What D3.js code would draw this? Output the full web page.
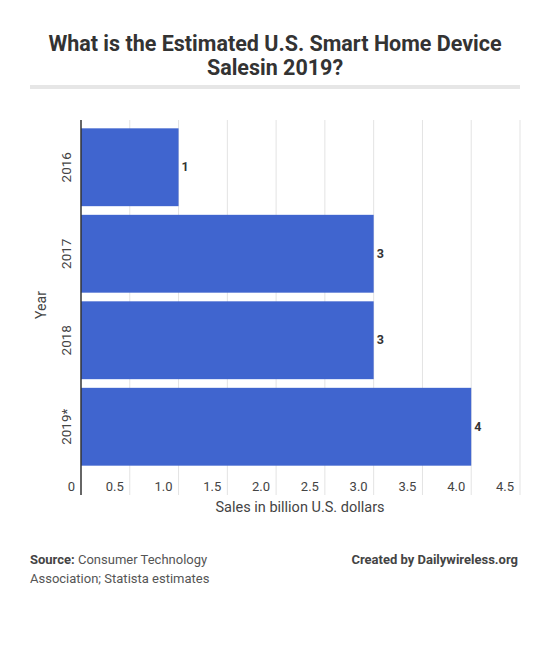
<!DOCTYPE html>
<html>
<head>
<meta charset="utf-8">
<script src="https://cdn.jsdelivr.net/npm/d3@7"></script>
<style>
  html, body { margin: 0; padding: 0; background: #fff; }
  svg { display: block; font-family: Roboto, "Noto Sans", sans-serif; }
</style>
</head>
<body>
<svg id="chart" width="550" height="668"></svg>
<script>
const categories = ["2016", "2017", "2018", "2019*"];
const values = [1, 3, 3, 4];
const valueLabels = ["1", "3", "3", "4"];
const xTicks = [0, 0.5, 1.0, 1.5, 2.0, 2.5, 3.0, 3.5, 4.0, 4.5];
const xTickLabels = ["0", "0.5", "1.0", "1.5", "2.0", "2.5", "3.0", "3.5", "4.0", "4.5"];

const svg = d3.select("#chart");
const W = 550;

// Title
const title = svg.append("text")
  .attr("x", W / 2).attr("y", 51)
  .attr("text-anchor", "middle")
  .style("font-size", "21.5px").style("font-weight", "700")
  .style("fill", "#333");
title.append("tspan").attr("x", W / 2).attr("dy", 0).text("What is the Estimated U.S. Smart Home Device");
title.append("tspan").attr("x", W / 2).attr("dy", 24).text("Salesin 2019?");

svg.append("rect").attr("x", 30).attr("y", 85).attr("width", 490).attr("height", 4).attr("fill", "#e6e6e6");

// Plot
const x0 = 81, x1 = 520;
const x = d3.scaleLinear().domain([0, 4.5]).range([x0, x1]);
const y = d3.scaleBand().domain(categories).range([124, 470]).paddingInner(0.1).paddingOuter(0.05);

const gridTop = 120, gridBottom = 495;

svg.append("g").selectAll("line").data(xTicks.slice(1)).join("line")
  .attr("x1", d => x(d)).attr("x2", d => x(d))
  .attr("y1", gridTop).attr("y2", gridBottom)
  .attr("stroke", "#e3e3e3").attr("stroke-width", 1);

svg.append("g").selectAll("rect").data(values).join("rect")
  .attr("x", x(0))
  .attr("y", (d, i) => y(categories[i]))
  .attr("width", d => x(d) - x(0))
  .attr("height", y.bandwidth())
  .attr("fill", "#4065cf");

svg.append("line").attr("x1", x0).attr("x2", x0).attr("y1", gridTop).attr("y2", gridBottom)
  .attr("stroke", "#333").attr("stroke-width", 1.5);

// Value labels
svg.append("g").selectAll("text").data(values).join("text")
  .attr("x", d => x(d) + 3)
  .attr("y", (d, i) => y(categories[i]) + y.bandwidth() / 2 + 4)
  .style("font-size", "12.5px").style("font-weight", "700").style("fill", "#333")
  .text((d, i) => valueLabels[i]);

// X tick labels
svg.append("g").selectAll("text").data(xTicks).join("text")
  .attr("x", d => x(d) - 6)
  .attr("y", 491)
  .attr("text-anchor", "end")
  .style("font-size", "13px").style("fill", "#444")
  .text((d, i) => xTickLabels[i]);

// Y tick labels
svg.append("g").selectAll("text").data(categories).join("text")
  .attr("transform", d => `translate(71,${y(d) + y.bandwidth() / 2}) rotate(-90)`)
  .attr("text-anchor", "middle")
  .style("font-size", "13.5px").style("fill", "#444")
  .text(d => d);

// Axis titles
svg.append("text").attr("x", 300).attr("y", 512).attr("text-anchor", "middle")
  .style("font-size", "14.5px").style("fill", "#444").text("Sales in billion U.S. dollars");
svg.append("text").attr("transform", "translate(46,305) rotate(-90)").attr("text-anchor", "middle")
  .style("font-size", "14px").style("fill", "#444").text("Year");

// Footer
const src = svg.append("text").attr("x", 30).attr("y", 564).style("font-size", "13px").style("fill", "#555");
src.append("tspan").style("font-weight", "700").style("fill", "#444").text("Source:");
src.append("tspan").text(" Consumer Technology");
svg.append("text").attr("x", 30).attr("y", 583).style("font-size", "13px").style("fill", "#555")
  .text("Association; Statista estimates");
svg.append("text").attr("x", 518).attr("y", 564).attr("text-anchor", "end")
  .style("font-size", "13px").style("font-weight", "700").style("fill", "#444")
  .text("Created by Dailywireless.org");
</script>
</body>
</html>
